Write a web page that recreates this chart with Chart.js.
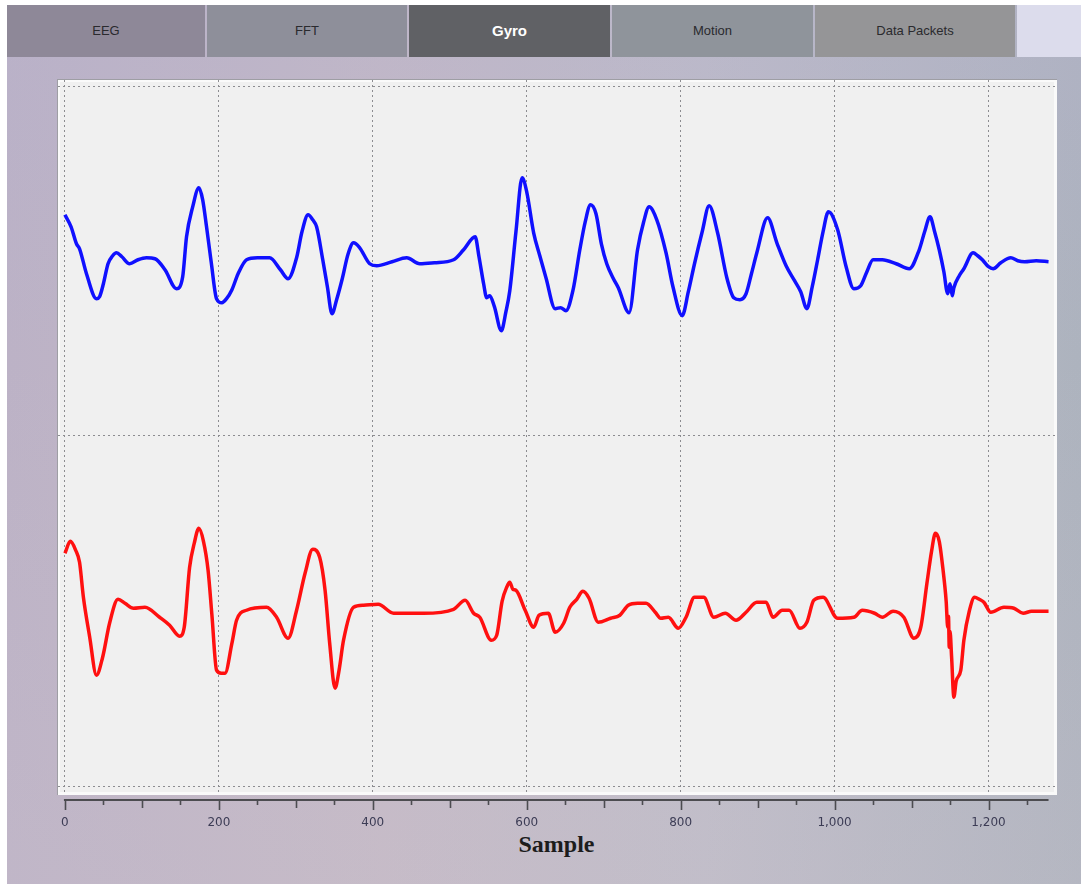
<!DOCTYPE html>
<html>
<head>
<meta charset="utf-8">
<script src="https://cdn.jsdelivr.net/npm/chart.js@4.4.1/dist/chart.umd.min.js"></script>
<style>
html,body{margin:0;padding:0;background:#ffffff;width:1086px;height:888px;overflow:hidden;}
#frame{position:absolute;left:7px;top:5px;width:1074px;height:879px;
  background:linear-gradient(to right,#bcb2c6 0%,#c4b9c6 35%,#bebcc8 65%,#adb3be 100%);}
#frameShade{position:absolute;left:7px;top:5px;width:1074px;height:879px;
  background:linear-gradient(to bottom,rgba(180,176,205,0.35) 0%,rgba(200,190,200,0) 40%,rgba(205,195,205,0.25) 100%);}
.tab{position:absolute;top:5px;height:52px;line-height:52px;text-align:center;
  font-family:"Liberation Sans",Arial,sans-serif;font-size:13px;color:#2a2a2e;}
#tabRest{position:absolute;left:1017px;top:5px;width:64px;height:52px;background:#dcdcec;}
#sampleTitle{position:absolute;left:0;width:1113px;top:831px;text-align:center;
  font-family:"Liberation Serif","Times New Roman",serif;font-weight:bold;font-size:24px;color:#1c1c1c;}
canvas{position:absolute;left:0;top:0;}
</style>
</head>
<body>
<div id="frame"></div>
<div id="frameShade"></div>
<div class="tab" style="left:7px;width:198px;background:#8e8898;">EEG</div>
<div class="tab" style="left:207px;width:200px;background:#8e8f9a;">FFT</div>
<div class="tab" style="left:409px;width:201px;background:#606165;color:#ffffff;font-weight:bold;font-size:15px;">Gyro</div>
<div class="tab" style="left:612px;width:201px;background:#8f949b;">Motion</div>
<div class="tab" style="left:815px;width:200px;background:#959597;">Data Packets</div>
<div id="tabRest"></div>
<div id="sampleTitle">Sample</div>
<canvas id="c" width="1086" height="888"></canvas>
<script>
// ---- data ----
const xTickValues = [0, 200, 400, 600, 800, 1000, 1200];
const xTickLabels = ['0', '200', '400', '600', '800', '1,000', '1,200'];
const xMinorStep = 50;
const xAxisEnd = 1278;

const blueSamples = [0,8,15,19,28,41,45,50,56,62,67,74,84,95,106,117,130,145,153,158,166,174,179,184,190,197,204,210,217,225,236,250,266,280,290,301,308,316,322,327,335,341,347,353,360,368,375,383,396,405,425,444,461,480,505,518,533,538,544,548,552,558,567,573,578,586,594,600,609,617,625,637,644,651,660,669,676,683,690,697,704,712,719,733,744,752,759,769,781,790,802,810,818,828,837,848,860,869,877,885,892,899,913,925,937,948,956,964,971,978,985,992,1004,1015,1025,1034,1042,1050,1062,1080,1097,1110,1117,1124,1130,1136,1142,1147,1150,1153,1155,1162,1168,1180,1186,1192,1200,1206,1216,1229,1238,1247,1262,1278];
const blueValues  = [47,35,18,13,-12,-37,-35,-22,-2,6,9,5,-2,2,4,3,-8,-27,-15,25,55,74,62,35,0,-37,-41,-37,-28,-12,2,4,4,-8,-17,4,30,47,42,35,2,-25,-52,-38,-18,8,19,14,-2,-4,0,4,-2,-1,2,12,25,5,-22,-36,-34,-45,-69,-50,-29,30,84,70,29,6,-16,-47,-46,-49,-29,12,40,57,48,18,-2,-16,-26,-51,12,40,55,42,9,-25,-54,-30,-2,30,56,29,-16,-36,-38,-32,-12,9,44,19,-4,-19,-30,-47,-25,2,30,50,32,-5,-27,-24,-10,2,2,-2,-7,12,30,45,30,12,-10,-32,-22,-34,-26,-14,-7,9,6,2,-5,-7,-1,4,1,0,1,0];

const redSamples = [0,7,14,19,24,32,41,49,58,69,78,89,104,123,136,149,155,162,168,174,180,186,191,197,203,208,217,223,236,262,275,290,301,312,322,331,338,344,351,356,362,375,388,407,427,466,505,520,531,539,554,561,568,574,578,582,586,598,609,616,628,637,648,656,665,673,681,693,709,721,732,744,755,767,774,784,797,807,818,830,843,858,872,885,899,911,920,932,941,955,964,973,985,1004,1025,1036,1052,1062,1076,1090,1103,1112,1120,1126,1131,1136,1141,1145,1147,1148,1149,1150,1152,1155,1158,1164,1168,1175,1182,1188,1194,1203,1220,1233,1245,1256,1278];
const redValues   = [58,70,61,49,14,-25,-64,-46,-12,12,8,3,4,-6,-14,-25,-16,44,68,83,70,41,-4,-59,-62,-62,-32,-9,1,4,-6,-27,1,38,62,54,21,-32,-77,-60,-29,4,6,7,-2,-2,2,11,-2,-6,-29,-24,10,24,29,22,21,1,-16,-4,-2,-21,-12,4,12,20,13,-11,-7,-4,6,8,8,-1,-7,-6,-17,-6,14,14,-6,-2,-9,-1,9,9,-6,1,1,-17,-11,11,14,-7,-6,1,-2,-6,0,-6,-27,-16,28,60,78,70,41,10,-16,-5,-36,-20,-45,-86,-70,-59,-29,0,14,12,9,-1,4,3,-2,0,0];

// ---- plugins ----
const plotBackground = {
  id: 'plotBackground',
  beforeDraw(chart) {
    const {ctx, chartArea: a} = chart;
    ctx.save();
    ctx.fillStyle = '#9e9ea4';
    ctx.fillRect(a.left - 1, a.top - 1, a.right - a.left + 1, a.bottom - a.top + 1);
    ctx.fillStyle = '#fafafa';
    ctx.fillRect(a.left, a.top, a.right - a.left, a.bottom - a.top);
    ctx.fillStyle = '#f0f0f0';
    ctx.fillRect(a.left + 2, a.top + 2, a.right - a.left - 5, a.bottom - a.top - 5);
    ctx.restore();
  }
};

const bottomAxis = {
  id: 'bottomAxis',
  afterDraw(chart) {
    const {ctx, chartArea: a} = chart;
    const x = chart.scales.x;
    const y0 = a.bottom + 5;
    ctx.save();
    ctx.strokeStyle = '#4c4c50';
    ctx.lineWidth = 2;
    ctx.beginPath();
    ctx.moveTo(x.getPixelForValue(0) - 1, y0);
    ctx.lineTo(x.getPixelForValue(xAxisEnd), y0);
    ctx.stroke();
    ctx.lineWidth = 1.6;
    for (let v = 0; v <= xAxisEnd; v += xMinorStep) {
      const px = Math.round(x.getPixelForValue(v)) + 0.5;
      const len = v % 200 === 0 ? 10 : (v % 100 === 0 ? 8 : 5);
      ctx.beginPath();
      ctx.moveTo(px, y0);
      ctx.lineTo(px, y0 + len);
      ctx.stroke();
    }
    ctx.restore();
  }
};

const gridColor = '#8c8c90';
const minorTicks = [];
for (let v = 0; v <= xAxisEnd; v += xMinorStep) minorTicks.push(v);

new Chart(document.getElementById('c'), {
  type: 'line',
  data: {
    datasets: [
      {
        label: 'Gyro X',
        data: blueSamples.map((s, i) => ({x: s, y: blueValues[i]})),
        yAxisID: 'yTop',
        borderColor: '#1010ff',
        borderWidth: 3.5,
        pointRadius: 0,
        cubicInterpolationMode: 'monotone'
      },
      {
        label: 'Gyro Y',
        data: redSamples.map((s, i) => ({x: s, y: redValues[i]})),
        yAxisID: 'yBot',
        borderColor: '#ff1010',
        borderWidth: 3.5,
        pointRadius: 0,
        cubicInterpolationMode: 'monotone'
      }
    ]
  },
  options: {
    responsive: false,
    animation: false,
    events: [],
    layout: {padding: {left: 58, top: 80, right: 29, bottom: 53}},
    plugins: {legend: {display: false}, tooltip: {enabled: false}},
    scales: {
      x: {
        type: 'linear',
        min: -9,
        max: 1289,
        afterBuildTicks: s => { s.ticks = minorTicks.map(v => ({value: v})); },
        afterFit: s => { s.height = 40; },
        grid: {
          drawTicks: false,
          lineWidth: 1,
          color: c => (c.tick && c.tick.value % 200 === 0) ? gridColor : 'rgba(0,0,0,0)'
        },
        border: {display: false, dash: [2, 3]},
        ticks: {
          autoSkip: false,
          maxRotation: 0,
          padding: 21,
          color: '#3c3c55',
          font: {family: 'DejaVu Sans', size: 12},
          callback: v => { const i = xTickValues.indexOf(v); return i >= 0 ? xTickLabels[i] : ''; }
        }
      },
      yTop: {
        type: 'linear',
        position: 'left',
        stack: 'gyro',
        stackWeight: 1,
        weight: 1,
        min: -176,
        max: 182,
        afterBuildTicks: s => { s.ticks = [{value: 175}, {value: -174}]; },
        afterFit: s => { s.width = 0; },
        ticks: {display: false},
        grid: {drawTicks: false, color: gridColor, lineWidth: 1},
        border: {display: false, dash: [2, 3]}
      },
      yBot: {
        type: 'linear',
        position: 'left',
        stack: 'gyro',
        stackWeight: 1,
        weight: 0,
        min: -184,
        max: 174,
        afterBuildTicks: s => { s.ticks = [{value: -175}]; },
        afterFit: s => { s.width = 0; },
        ticks: {display: false},
        grid: {drawTicks: false, color: gridColor, lineWidth: 1},
        border: {display: false, dash: [2, 3]}
      }
    }
  },
  plugins: [plotBackground, bottomAxis]
});
</script>
</body>
</html>
